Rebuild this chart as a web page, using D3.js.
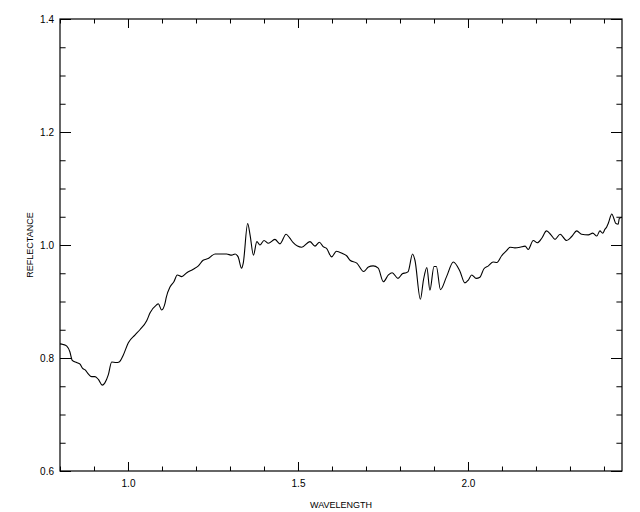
<!DOCTYPE html>
<html>
<head>
<meta charset="utf-8">
<script src="https://cdn.jsdelivr.net/npm/d3@7"></script>
<style>
  body { margin: 0; background: #fff; }
  text { font-family: "Liberation Sans", Arial, sans-serif; fill: #000; }
</style>
</head>
<body>
<svg id="chart" width="640" height="512"></svg>
<script>
// spectrum
const wavelength = [
  0.800, 0.809, 0.820, 0.829, 0.836, 0.849, 0.859, 0.866, 0.874, 0.883,
  0.893, 0.903, 0.913, 0.924, 0.932, 0.942, 0.952, 0.965, 0.974, 0.986,
  1.001, 1.021, 1.035, 1.055, 1.065, 1.084, 1.089, 1.099, 1.109, 1.112,
  1.124, 1.135, 1.145, 1.158, 1.173, 1.192, 1.207, 1.221, 1.236, 1.256,
  1.271, 1.290, 1.305, 1.315, 1.324, 1.334, 1.339, 1.352, 1.359, 1.369,
  1.379, 1.388, 1.400, 1.413, 1.432, 1.447, 1.465, 1.476, 1.486, 1.511,
  1.535, 1.550, 1.563, 1.574, 1.584, 1.599, 1.613, 1.631, 1.643, 1.653,
  1.673, 1.693, 1.707, 1.721, 1.736, 1.751, 1.766, 1.777, 1.794, 1.807,
  1.818, 1.824, 1.837, 1.844, 1.860, 1.869, 1.879, 1.888, 1.900, 1.907,
  1.919, 1.937, 1.957, 1.976, 1.991, 2.001, 2.011, 2.024, 2.035, 2.047,
  2.060, 2.074, 2.085, 2.099, 2.112, 2.124, 2.138, 2.153, 2.168, 2.177,
  2.192, 2.204, 2.217, 2.231, 2.244, 2.256, 2.271, 2.290, 2.305, 2.320,
  2.334, 2.354, 2.367, 2.379, 2.388, 2.396, 2.403, 2.408, 2.413, 2.423,
  2.429, 2.435, 2.442, 2.445, 2.453
];
const reflectance = [
  0.825, 0.824, 0.821, 0.811, 0.796, 0.792, 0.789, 0.782, 0.779, 0.772,
  0.767, 0.767, 0.762, 0.752, 0.756, 0.770, 0.793, 0.792, 0.793, 0.805,
  0.827, 0.841, 0.850, 0.866, 0.880, 0.894, 0.896, 0.885, 0.897, 0.906,
  0.926, 0.935, 0.947, 0.944, 0.951, 0.957, 0.963, 0.973, 0.976, 0.984,
  0.984, 0.984, 0.982, 0.984, 0.979, 0.959, 0.968, 1.038, 1.018, 0.982,
  1.006, 1.000, 1.008, 1.003, 1.010, 1.002, 1.019, 1.012, 1.004, 0.996,
  1.006, 0.998, 1.005, 0.997, 0.994, 0.979, 0.989, 0.985, 0.981, 0.973,
  0.968, 0.953, 0.961, 0.963, 0.959, 0.935, 0.947, 0.951, 0.941, 0.949,
  0.951, 0.953, 0.984, 0.973, 0.904, 0.938, 0.960, 0.920, 0.962, 0.962,
  0.921, 0.944, 0.970, 0.954, 0.933, 0.938, 0.947, 0.941, 0.943, 0.958,
  0.963, 0.970, 0.969, 0.981, 0.989, 0.996, 0.995, 0.996, 0.998, 0.992,
  1.008, 1.004, 1.012, 1.025, 1.018, 1.010, 1.019, 1.008, 1.015, 1.025,
  1.019, 1.018, 1.021, 1.016, 1.025, 1.021, 1.028, 1.032, 1.039, 1.055,
  1.047, 1.038, 1.037, 1.047, 1.049
];

const xMajorTicks = [1.0, 1.5, 2.0];
const xMinorTicks = d3.range(8, 25).map(i => i / 10);
const yMajorTicks = [0.6, 0.8, 1.0, 1.2, 1.4];
const yMinorTicks = d3.range(12, 29).map(i => i / 20);
const xTitle = "WAVELENGTH";
const yTitle = "REFLECTANCE";

const width = 640, height = 512;
const margin = {top: 19, right: 18, bottom: 41, left: 60};
const plotW = width - margin.left - margin.right;
const plotH = height - margin.top - margin.bottom;

const svg = d3.select("#chart");
svg.append("rect").attr("width", width).attr("height", height).attr("fill", "#fff");

const g = svg.append("g")
    .attr("transform", `translate(${margin.left},${margin.top})`);

const x = d3.scaleLinear()
    .domain(d3.extent(wavelength))
    .range([0, plotW]);

const y = d3.scaleLinear()
    .domain([0.6, 1.4])
    .range([plotH, 0]);

const xMajorLen = 9, xMinorLen = 4.5, yMajorLen = 11, yMinorLen = 5.6;

function styleAxis(sel) {
    sel.select(".domain").remove();
    sel.selectAll(".tick line").attr("stroke", "#000").attr("stroke-width", 1);
    sel.selectAll("text").attr("font-size", "10px");
}

// bottom
g.append("g").attr("transform", `translate(0,${plotH})`)
    .call(d3.axisBottom(x).tickValues(xMinorTicks).tickSize(-xMinorLen).tickFormat(""))
    .call(styleAxis);
g.append("g").attr("transform", `translate(0,${plotH})`)
    .call(d3.axisBottom(x).tickValues(xMajorTicks).tickSize(-xMajorLen).tickPadding(9).tickFormat(d3.format(".1f")))
    .call(styleAxis);
// top
g.append("g")
    .call(d3.axisTop(x).tickValues(xMinorTicks).tickSize(-xMinorLen).tickFormat(""))
    .call(styleAxis);
g.append("g")
    .call(d3.axisTop(x).tickValues(xMajorTicks).tickSize(-xMajorLen).tickFormat(""))
    .call(styleAxis);
// left
g.append("g")
    .call(d3.axisLeft(y).tickValues(yMinorTicks).tickSize(-yMinorLen).tickFormat(""))
    .call(styleAxis);
g.append("g")
    .call(d3.axisLeft(y).tickValues(yMajorTicks).tickSize(-yMajorLen).tickPadding(6).tickFormat(d3.format(".1f")))
    .call(styleAxis);
// right
g.append("g").attr("transform", `translate(${plotW},0)`)
    .call(d3.axisRight(y).tickValues(yMinorTicks).tickSize(-yMinorLen).tickFormat(""))
    .call(styleAxis);
g.append("g").attr("transform", `translate(${plotW},0)`)
    .call(d3.axisRight(y).tickValues(yMajorTicks).tickSize(-yMajorLen).tickFormat(""))
    .call(styleAxis);

// frame
g.append("rect")
    .attr("width", plotW)
    .attr("height", plotH)
    .attr("fill", "none")
    .attr("stroke", "#000")
    .attr("stroke-width", 1.2);

// spectrum
const pts = wavelength.map((w, i) => [w, reflectance[i]]);
g.append("path")
    .datum(pts)
    .attr("fill", "none")
    .attr("stroke", "#000")
    .attr("stroke-width", 1.1)
    .attr("stroke-linejoin", "round")
    .attr("d", d3.line().curve(d3.curveMonotoneX).x(d => x(d[0])).y(d => y(d[1])));

// titles
g.append("text")
    .attr("x", plotW / 2)
    .attr("y", plotH + 37)
    .attr("text-anchor", "middle")
    .attr("font-size", "9px")
    .text(xTitle);

g.append("text")
    .attr("transform", `translate(${-27},${plotH / 2}) rotate(-90)`)
    .attr("text-anchor", "middle")
    .attr("font-size", "9px")
    .text(yTitle);
</script>
</body>
</html>
